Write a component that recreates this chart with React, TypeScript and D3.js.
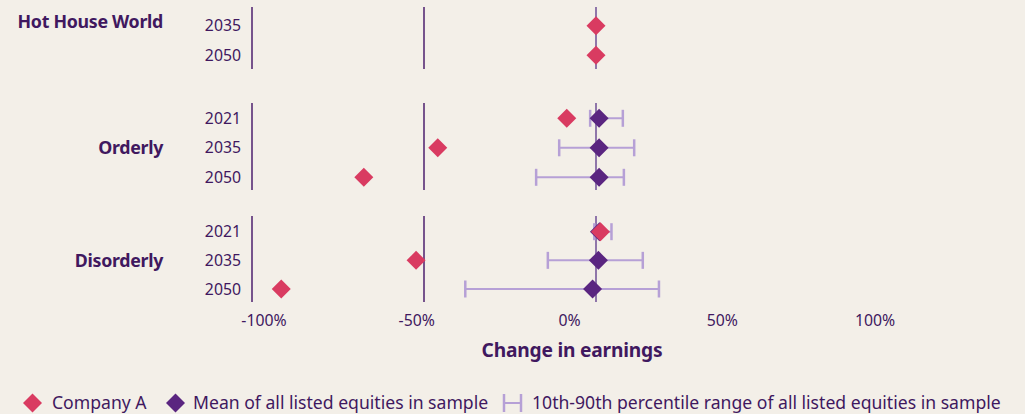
import React from "react";
import * as d3 from "d3";

const groups = ["Hot House World", "Orderly", "Disorderly"];
const groupYears = [["2035", "2050"], ["2021", "2035", "2050"], ["2021", "2035", "2050"]];

// change in earnings, %
const companyA = [[0, 0], [-8.5, -46, -67.5], [1.3, -52.3, -91.5]];
const meanAll = [[null, null], [0.9, 0.9, 0.9], [1.0, 0.7, -1.0]];
const p10 = [[null, null], [-1.7, -10.7, -17.4], [-0.5, -14, -38]];
const p90 = [[null, null], [7.8, 11.1, 8.1], [4.5, 13.6, 18.3]];

const gridValues = [-100, -50, 0];
const tickValues = [-100, -50, 0, 50, 100];

const legendLabels = [
  "Company A",
  "Mean of all listed equities in sample",
  "10th-90th percentile range of all listed equities in sample",
];

const W = 1025;
const H = 414;
const BG = "#f3efe8";
const TEXT = "#40185f";
const PINK = "#d93b61";
const PURPLE = "#5a2580";
const RANGE = "#b6a0d6";
const ZERO = "#8f76aa";

// vertical extent of each group's grid lines and of its rows
const layout = [
  { l0: 7, l1: 69, p0: 25.7, p1: 55.3 },
  { l0: 103, l1: 190, p0: 118.3, p1: 177.3 },
  { l0: 216, l1: 302, p0: 231.7, p1: 289 },
];

const font = "'Noto Sans', sans-serif";

function Diamond({ x, y, r, fill }: { x: number; y: number; r: number; fill: string }) {
  return <path d={`M${x},${y - r}L${x + r},${y}L${x},${y + r}L${x - r},${y}Z`} fill={fill} />;
}

export default function App() {
  const x = d3.scaleLinear().domain([-100, 0]).range([252, 596]);
  const xLabel = d3.scaleLinear().domain([-100, 100]).range([264, 875]);
  const R = 9.5;

  return (
    <svg width={W} height={H} style={{ position: "absolute", left: 0, top: 0, background: BG }}>
      <rect width={W} height={H} fill={BG} />
      {groups.map((g, gi) => {
        const L = layout[gi];
        const y = d3.scalePoint<string>().domain(groupYears[gi]).range([L.p0, L.p1]);
        const mid = (L.p0 + L.p1) / 2;
        return (
          <g key={g}>
            <text x={163} y={gi === 0 ? 22 : mid} dy="0.35em" textAnchor="end" fontFamily={font}
              fontWeight={700} fontSize={17.8} fill={TEXT} letterSpacing={-0.3}>{g}</text>
            {groupYears[gi].map((yr) => (
              <text key={yr} x={241} y={y(yr)} dy="0.35em" textAnchor="end" fontFamily={font}
                fontSize={15.8} fill={TEXT}>{yr}</text>
            ))}
            {gridValues.map((v) => (
              <line key={v} x1={x(v)} x2={x(v)} y1={L.l0} y2={L.l1}
                stroke={v === 0 ? ZERO : "#4d1f6e"} strokeWidth={v === 0 ? 2 : 1.5} />
            ))}
            {groupYears[gi].map((yr, i) => {
              const lo = p10[gi][i];
              const hi = p90[gi][i];
              if (lo == null || hi == null) return null;
              const yy = y(yr)!;
              return (
                <g key={"r" + yr} stroke={RANGE}>
                  <line x1={x(lo)} x2={x(hi)} y1={yy} y2={yy} strokeWidth={2} />
                  <line x1={x(lo)} x2={x(lo)} y1={yy - 8.5} y2={yy + 8.5} strokeWidth={2.5} />
                  <line x1={x(hi)} x2={x(hi)} y1={yy - 8.5} y2={yy + 8.5} strokeWidth={2.5} />
                </g>
              );
            })}
            {groupYears[gi].map((yr, i) => {
              const m = meanAll[gi][i];
              if (m == null) return null;
              return <Diamond key={"m" + yr} x={x(m)} y={y(yr)!} r={R} fill={PURPLE} />;
            })}
            {groupYears[gi].map((yr, i) => (
              <Diamond key={"c" + yr} x={x(companyA[gi][i])} y={y(yr)!} r={R} fill={PINK} />
            ))}
          </g>
        );
      })}
      {tickValues.map((t) => (
        <text key={t} x={xLabel(t)} y={320} dy="0.35em" textAnchor="middle" fontFamily={font}
          fontSize={15.8} fill={TEXT}>{`${t}%`}</text>
      ))}
      <text x={572} y={350} dy="0.35em" textAnchor="middle" fontFamily={font} fontWeight={700}
        fontSize={19.2} fill={TEXT} letterSpacing={-0.2}>Change in earnings</text>
      <g fontFamily={font} fontSize={17.6} fill={TEXT}>
        <Diamond x={32.5} y={403} r={R} fill={PINK} />
        <text x={52} y={403} dy="0.35em">{legendLabels[0]}</text>
        <Diamond x={175.5} y={403} r={R} fill={PURPLE} />
        <text x={193} y={403} dy="0.35em">{legendLabels[1]}</text>
        <g stroke={RANGE}>
          <line x1={504} x2={504} y1={394} y2={412} strokeWidth={2.5} />
          <line x1={504} x2={521} y1={403} y2={403} strokeWidth={2} />
          <line x1={521} x2={521} y1={394} y2={412} strokeWidth={2.5} />
        </g>
        <text x={532} y={403} dy="0.35em">{legendLabels[2]}</text>
      </g>
    </svg>
  );
}
